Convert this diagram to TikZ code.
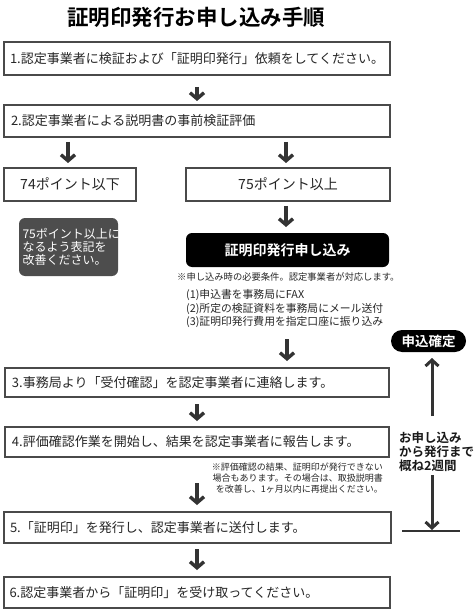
\documentclass[tikz,border=0pt]{standalone}
\usepackage{fontspec}
\setmainfont{Noto Sans CJK JP}
\newfontfamily\jpbold{Noto Sans CJK JP Bold}
\usetikzlibrary{arrows.meta}
\definecolor{boxline}{HTML}{4A4A4A}
\definecolor{arrowcol}{HTML}{333333}
\definecolor{graybox}{HTML}{4D4D4D}
\tikzset{
  stepbox/.style={draw=boxline, line width=1.6pt, fill=white, inner sep=0pt, font=\fontsize{13}{15}\selectfont, text=black!85},
  bigarrow/.style={draw=arrowcol, line width=3.4pt, -{Straight Barb[length=6pt,width=14pt,line width=3.4pt]}},
  thinarrow/.style={draw=arrowcol, line width=3pt, -{Straight Barb[length=6pt,width=13pt,line width=3pt]}},
  notetext/.style={inner sep=0pt, text=black!85},
}
\begin{document}
\begin{tikzpicture}[x=1pt,y=-1pt]
\useasboundingbox[fill=white] (0,0) rectangle (475,612);

% title
\node[inner sep=0pt, font=\jpbold\fontsize{21.5}{24}\selectfont] (title) at (196,17) {証明印発行お申し込み手順};

% step boxes
\node[stepbox, minimum width=386pt, minimum height=33pt, text width=374pt, align=left] (b1) at (197,58.5) {1.認定事業者に検証および「証明印発行」依頼をしてください。};
\node[stepbox, minimum width=386pt, minimum height=32pt, text width=372pt, align=left] (b2) at (197,121) {2.認定事業者による説明書の事前検証評価};
\node[stepbox, minimum width=132pt, minimum height=33pt, font=\fontsize{14}{16}\selectfont] (b74) at (70,184.5) {74ポイント以下};
\node[stepbox, minimum width=204pt, minimum height=33pt, font=\fontsize{14}{16}\selectfont] (b75) at (288,184.5) {75ポイント以上};

\node[fill=graybox, rounded corners=6pt, minimum width=99pt, minimum height=58pt, inner sep=0pt, text=white, text width=92pt, align=left, font=\fontsize{12}{12.7}\selectfont] (gray) at (68.5,247) {75ポイント以上に\\なるよう表記を\\改善ください。};

\node[fill=black, rounded corners=6pt, minimum width=203pt, minimum height=34pt, inner sep=0pt, text=white, font=\jpbold\fontsize{14}{16}\selectfont] (apply) at (287.5,250) {証明印発行申し込み};

\node[notetext, anchor=west, font=\fontsize{9.3}{11}\selectfont] (note1) at (177,276.5) {※申し込み時の必要条件。認定事業者が対応します。};
\node[notetext, anchor=north west, align=left, font=\fontsize{10.8}{13.8}\selectfont] (list) at (186,289) {(1)申込書を事務局にFAX\\(2)所定の検証資料を事務局にメール送付\\(3)証明印発行費用を指定口座に振り込み};

\node[stepbox, minimum width=384pt, minimum height=29pt, text width=370pt, align=left] (b3) at (197,382.5) {3.事務局より「受付確認」を認定事業者に連絡します。};
\node[stepbox, minimum width=384pt, minimum height=30pt, text width=370pt, align=left] (b4) at (197,442) {4.評価確認作業を開始し、結果を認定事業者に報告します。};

\node[notetext, anchor=north east, align=right, font=\fontsize{9}{10.8}\selectfont] (note2) at (383,463) {※評価確認の結果、証明印が発行できない\\場合もあります。その場合は、取扱説明書\\を改善し、1ヶ月以内に再提出ください。};

\node[stepbox, minimum width=387pt, minimum height=31pt, text width=375pt, align=left] (b5) at (197.5,527.5) {5.「証明印」を発行し、認定事業者に送付します。};
\node[stepbox, minimum width=386pt, minimum height=31pt, text width=375pt, align=left] (b6) at (197,592.5) {6.認定事業者から「証明印」を受け取ってください。};

% right side
\node[fill=black, rounded corners=11pt, minimum width=75pt, minimum height=22pt, inner sep=0pt, text=white, font=\jpbold\fontsize{13.5}{15}\selectfont] (fixed) at (428.5,341) {申込確定};
\node[inner sep=0pt, anchor=north west, align=left, font=\jpbold\fontsize{12.5}{14}\selectfont, text=black!90] (period) at (399,432) {お申し込み\\から発行まで\\概ね2週間};

% arrow coordinates
\coordinate (a1s) at (197,87);   \coordinate (a1e) at (197,101);
\coordinate (a2ls) at (68,142);  \coordinate (a2le) at (68,163);
\coordinate (a2rs) at (286,142); \coordinate (a2re) at (286,163);
\coordinate (a3s) at (286,206);  \coordinate (a3e) at (286,227);
\coordinate (a4s) at (287,339);  \coordinate (a4e) at (287,361);
\coordinate (a5s) at (197,404);  \coordinate (a5e) at (197,421);
\coordinate (a6s) at (197,483);  \coordinate (a6e) at (197,505);
\coordinate (a7s) at (197,549);  \coordinate (a7e) at (197,570);
\coordinate (ups) at (432,416);  \coordinate (upe) at (432,358);
\coordinate (dns) at (432,475);  \coordinate (dne) at (432,530);
\coordinate (hl) at (402,531);   \coordinate (hr) at (460,531);

\draw[bigarrow] (a1s) -- (a1e);
\draw[bigarrow] (a2ls) -- (a2le);
\draw[bigarrow] (a2rs) -- (a2re);
\draw[bigarrow] (a3s) -- (a3e);
\draw[bigarrow] (a4s) -- (a4e);
\draw[bigarrow] (a5s) -- (a5e);
\draw[bigarrow] (a6s) -- (a6e);
\draw[bigarrow] (a7s) -- (a7e);
\draw[thinarrow] (ups) -- (upe);
\draw[thinarrow] (dns) -- (dne);
\draw[draw=arrowcol, line width=1.2pt] (hl) -- (hr);
\end{tikzpicture}
\end{document}
